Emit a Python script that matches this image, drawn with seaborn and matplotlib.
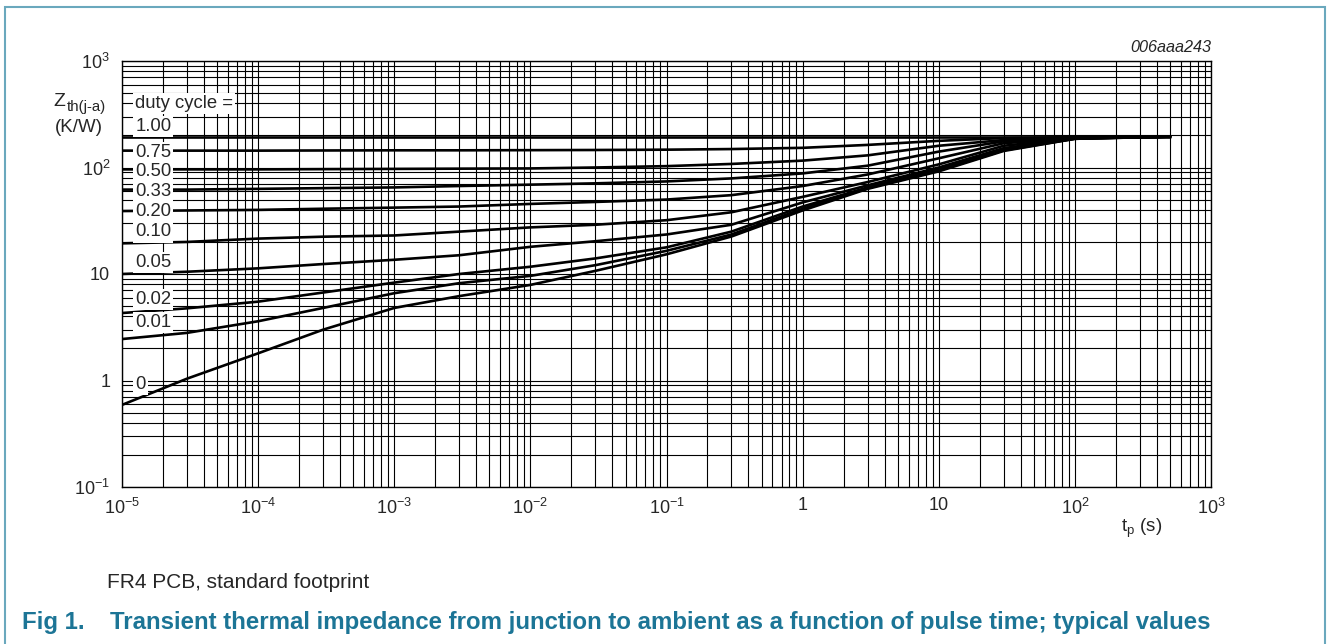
import numpy as np
import pandas as pd
import matplotlib
matplotlib.use("Agg")
import matplotlib.pyplot as plt
import matplotlib.ticker as mtick
from matplotlib.patches import Rectangle
import seaborn as sns

t_p = [1e-5, 3e-5, 1e-4, 3e-4, 1e-3, 3e-3, 1e-2, 3e-2,
       0.1, 0.3, 1, 3, 10, 30, 100, 500]

# Zth(j-a) in K/W per duty cycle
z_100 = [195, 195, 195, 195, 195, 195, 195, 195, 195, 195, 195, 195, 195, 195, 195, 195]
z_075 = [144, 144, 144, 144.5, 145, 145, 145.5, 146, 147, 149, 153, 163, 178, 189, 193, 195]
z_050 = [96, 96, 96, 96.5, 97, 97.5, 98, 100, 103, 108, 116, 130, 160, 181, 191, 195]
z_033 = [62, 62, 63, 64, 65, 67, 69, 71, 74, 79, 88, 104, 141, 176, 190, 195]
z_020 = [39, 39.5, 40, 41, 42, 43, 45.5, 47.5, 50, 55, 67, 86, 122, 169, 189, 195]
z_010 = [19.4, 20, 21.5, 22.4, 23, 25, 27.4, 29, 32, 38, 53, 73, 107, 160, 188, 195]
z_005 = [10, 10.5, 11.3, 12.4, 13.6, 15, 18, 20.3, 23.5, 29, 47, 68, 100, 152, 187, 195]
z_002 = [4.3, 4.76, 5.5, 6.7, 8.3, 10, 11.7, 14, 17.8, 25, 43, 65, 96, 148, 187, 195]
z_001 = [2.45, 2.8, 3.6, 4.8, 6.6, 8.2, 9.6, 12.1, 16.5, 23.5, 41, 64, 94, 145, 186, 195]
z_000 = [0.59, 1.04, 1.8, 3.0, 4.8, 6.2, 7.9, 10.7, 15.3, 22.5, 39.5, 63, 92, 143, 186, 195]

duty_labels = ["1.00", "0.75", "0.50", "0.33", "0.20", "0.10",
               "0.05", "0.02", "0.01", "0"]
curves = [z_100, z_075, z_050, z_033, z_020, z_010, z_005, z_002, z_001, z_000]

# where the curve labels sit (K/W) at the left edge
label_y = [245, 137, 91, 60, 39, 24.8, 12.7, 5.8, 3.47, 0.91]

x_ticks = [1e-5, 1e-4, 1e-3, 1e-2, 1e-1, 1, 10, 100, 1000]
x_ticklabels = [r"10$^{-5}$", r"10$^{-4}$", r"10$^{-3}$", r"10$^{-2}$",
                r"10$^{-1}$", "1", "10", r"10$^{2}$", r"10$^{3}$"]
y_ticks = [0.1, 1, 10, 100, 1000]
y_ticklabels = [r"10$^{-1}$", "1", "10", r"10$^{2}$", r"10$^{3}$"]

df = pd.DataFrame({
    "t": np.tile(t_p, len(curves)),
    "z": np.concatenate(curves),
    "duty": np.repeat(duty_labels, len(t_p)),
})

sns.set_style("white")
plt.rcParams["font.family"] = ["Liberation Sans", "DejaVu Sans"]
plt.rcParams["mathtext.fontset"] = "custom"
plt.rcParams["mathtext.rm"] = "Liberation Sans"
plt.rcParams["mathtext.it"] = "Liberation Sans:italic"
plt.rcParams["mathtext.bf"] = "Liberation Sans:bold"

W, H = 1327, 644
fig = plt.figure(figsize=(W / 100, H / 100), dpi=100)
ax = fig.add_axes([122 / W, 1 - 487 / H, (1211 - 122) / W, (487 - 61) / H])

sns.lineplot(data=df, x="t", y="z", units="duty", estimator=None,
             color="black", linewidth=1.9, sort=True, ax=ax, zorder=3)

ax.set_xscale("log")
ax.set_yscale("log")
ax.set_xlim(1e-5, 1e3)
ax.set_ylim(0.1, 1e3)

ax.xaxis.set_major_locator(mtick.FixedLocator(x_ticks))
ax.xaxis.set_minor_locator(mtick.LogLocator(base=10, subs=np.arange(2, 10), numticks=20))
ax.yaxis.set_major_locator(mtick.FixedLocator(y_ticks))
ax.yaxis.set_minor_locator(mtick.LogLocator(base=10, subs=np.arange(2, 10), numticks=20))
ax.set_xticklabels(x_ticklabels)
ax.set_yticklabels(y_ticklabels)
ax.xaxis.set_minor_formatter(mtick.NullFormatter())
ax.yaxis.set_minor_formatter(mtick.NullFormatter())
ax.tick_params(which="both", length=0, labelsize=13)
ax.tick_params(axis="x", pad=7.5)
ax.tick_params(axis="y", pad=8.5)

ax.grid(which="both", color="black", linewidth=0.8)
ax.set_axisbelow(True)
for s in ax.spines.values():
    s.set_color("black")
    s.set_linewidth(1.0)
ax.set_xlabel("")
ax.set_ylabel("")

# duty cycle labels with white boxes over the grid
box = dict(facecolor="white", edgecolor="none", pad=1.5)
ax.text(1.25e-5, 403, "duty cycle =", fontsize=13.3, va="center", ha="left",
        bbox=box, zorder=5)
for lab, yy in zip(duty_labels, label_y):
    ax.text(1.25e-5, yy, lab, fontsize=13.3, va="center", ha="left",
            bbox=box, zorder=5)

# y label: Z with subscript th(j-a), then unit
fig.text(53 / W, 1 - 101 / H, "Z", fontsize=14, ha="left", va="center")
fig.text(67 / W, 1 - 107 / H, "th(j-a)", fontsize=10.8, ha="left", va="center")
fig.text(79 / W, 1 - 128 / H, "(K/W)", fontsize=13.5, ha="center", va="center")
fig.text(1142 / W, 1 - 528 / H, r"t$_{\mathrm{p}}$ (s)", fontsize=13.5,
         ha="center", va="center")
fig.text(1211 / W, 1 - 48 / H, "006aaa243", fontsize=11.7, style="italic",
         ha="right", va="center")

fig.text(107 / W, 1 - 583 / H, "FR4 PCB, standard footprint", fontsize=15,
         ha="left", va="center")
cap_color = "#1c7596"
fig.text(22 / W, 1 - 623 / H, "Fig 1.", fontsize=17.3, fontweight="bold",
         color=cap_color, ha="left", va="center")
fig.text(110 / W, 1 - 623 / H,
         "Transient thermal impedance from junction to ambient as a function of pulse time; typical values",
         fontsize=17.3, fontweight="bold", color=cap_color, ha="left", va="center")

fig.patches.append(Rectangle((5 / W, -0.05), 1320 / W, (H - 7) / H + 0.05,
                             transform=fig.transFigure, fill=False,
                             edgecolor="#6aa8bd", linewidth=1.5))

fig.savefig("out.png", dpi=100)
